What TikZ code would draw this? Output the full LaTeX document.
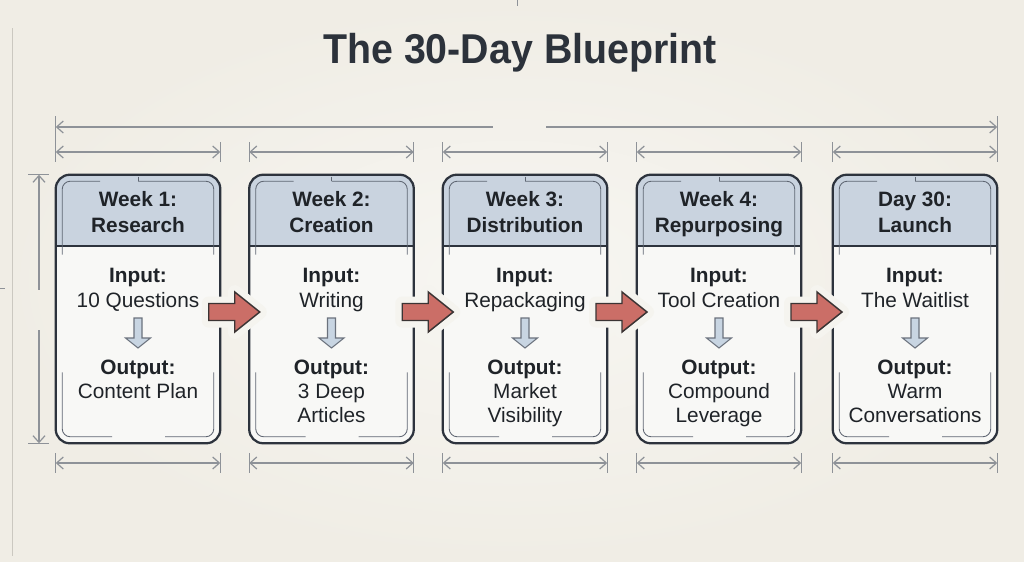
\documentclass[tikz,border=0pt]{standalone}
\usepackage{fontspec}
\setmainfont{Liberation Sans}
\usetikzlibrary{arrows.meta,calc}

\definecolor{bgin}{HTML}{F7F6F2}
\definecolor{bgout}{HTML}{F0EDE5}
\definecolor{halo}{HTML}{F5F4EF}
\definecolor{ink}{HTML}{1F2328}
\definecolor{titleink}{HTML}{2C323B}
\definecolor{border}{HTML}{2D333D}
\definecolor{headfill}{HTML}{C9D3DF}
\definecolor{bodyfill}{HTML}{F8F8F6}
\definecolor{innerline}{HTML}{5F6672}
\definecolor{redfill}{HTML}{CB6E67}
\definecolor{redline}{HTML}{3B3434}
\definecolor{bluefill}{HTML}{C8D5E2}
\definecolor{blueline}{HTML}{6B727D}
\definecolor{dimline}{HTML}{8E9298}
\definecolor{frameline}{HTML}{CBC8C0}

\tikzset{
  card/.style={fill=bodyfill, rounded corners=10.5pt, minimum width=123pt,
    minimum height=201pt, inner sep=0pt},
  cardline/.style={draw=border, line width=1.7pt, rounded corners=10.5pt},
  innerdeco/.style={draw=innerline, line width=0.65pt, rounded corners=6pt},
  dimbase/.style={draw=dimline, line width=0.9pt},
  barb/.tip={Straight Barb[length=5pt,width=9pt,line width=0.9pt]},
  dimboth/.style={dimbase, barb-barb},
  txt/.style={font=\fontsize{15.6}{18}\selectfont, text=ink, inner sep=0pt, anchor=base},
  txtb/.style={font=\fontsize{15.6}{18}\selectfont\bfseries, text=ink, inner sep=0pt, anchor=base},
  pics/flowarrow/.style={code={
    \path[draw=halo, fill=halo, line width=10.5pt, line join=round]
      (-26,-8.5) -- (0,-8.5) -- (0,-20) -- (25,0) -- (0,20) -- (0,8.5) -- (-26,8.5) -- cycle;
    \path[draw=redline, fill=redfill, line width=1.1pt, line join=miter]
      (-26,-8.5) -- (0,-8.5) -- (0,-20) -- (25,0) -- (0,20) -- (0,8.5) -- (-26,8.5) -- cycle;
  }},
  pics/downarrow/.style={code={
    \path[draw=blueline, fill=bluefill, line width=0.8pt, line join=miter]
      (-4,0) -- (4,0) -- (4,20) -- (12.5,20) -- (0,30) -- (-12.5,20) -- (-4,20) -- cycle;
  }}
}

% #1 index, #2 centre x, #3/#4 heading lines, #5 input, #6/#7 output lines
\newcommand\cardblock[7]{%
  \node[card] (card#1) at (#2,309) {};
  \begin{scope}
    \clip[rounded corners=10.5pt] (card#1.north west) rectangle (card#1.south east);
    \fill[headfill] (card#1.north west) rectangle ($(card#1.east)+(0,-63)$);
  \end{scope}
  \draw[border, line width=1.4pt] ($(card#1.west)+(0,-63)$) -- ($(card#1.east)+(0,-63)$);
  \draw[cardline] (card#1.north west) rectangle (card#1.south east);
  % thin inner outline pieces
  \draw[innerdeco] ($(card#1.north west)+(6.5,80)$) -- ($(card#1.north west)+(6.5,6.5)$) -- ($(card#1.north)+(-38,6.5)$);
  \draw[innerdeco] ($(card#1.north)+(0,6.5)$) -- ($(card#1.north east)+(-6.5,6.5)$) -- ($(card#1.north east)+(-6.5,80)$);
  \draw[innerline, line width=0.65pt] ($(card#1.north)+(0,2)$) -- ($(card#1.north)+(0,6.5)$);
  \draw[innerdeco] ($(card#1.south west)+(6.5,-71)$) -- ($(card#1.south west)+(6.5,-6.5)$) -- ($(card#1.south)+(-26,-6.5)$);
  \draw[innerdeco] ($(card#1.south)+(27,-6.5)$) -- ($(card#1.south east)+(-6.5,-6.5)$) -- ($(card#1.south east)+(-6.5,-71)$);
  % texts
  \node[txtb] (head#1a) at (#2,206) {#3};
  \node[txtb] (head#1b) at (#2,232) {#4};
  \node[txtb] (inl#1) at (#2,282) {Input:};
  \node[txt] (inv#1) at (#2,307) {#5};
  \pic at (#2,318) {downarrow};
  \node[txtb] (outl#1) at (#2,374) {Output:};
  \node[txt] (outa#1) at (#2,398) {#6};
  \ifx\relax#7\relax\else\node[txt] (outb#1) at (#2,422) {#7};\fi
  % width dimensions above and below
  \draw[dimboth] (card#1.north west |- 0,152) -- (card#1.north east |- 0,152);
  \draw[dimbase] (card#1.north west |- 0,142) -- (card#1.north west |- 0,162);
  \draw[dimbase] (card#1.north east |- 0,142) -- (card#1.north east |- 0,162);
  \draw[dimboth] (card#1.south west |- 0,463) -- (card#1.south east |- 0,463);
  \draw[dimbase] (card#1.south west |- 0,453) -- (card#1.south west |- 0,473);
  \draw[dimbase] (card#1.south east |- 0,453) -- (card#1.south east |- 0,473);
}

\begin{document}
\begin{tikzpicture}[x=0.75pt,y=-0.75pt]
  \useasboundingbox (0,0) rectangle (1024,561);
  \shade[inner color=bgin, outer color=bgout] (0,0) rectangle (1024,561);

  % sheet marks
  \draw[frameline, line width=0.75pt] (12,28) -- (12,556);
  \draw[dimline, line width=0.6pt] (517,0) -- (517,6);
  \draw[dimline, line width=0.6pt] (0,288) -- (5,288);

  \node[font=\fontsize{29.5}{32}\selectfont\bfseries, text=titleink, inner sep=0pt, anchor=base,
    yscale=1.06] (title) at (520,63) {The 30-Day Blueprint};

  \cardblock{1}{138}{Week 1:}{Research}{10 Questions}{Content Plan}{}
  \cardblock{2}{331.5}{Week 2:}{Creation}{Writing}{3 Deep}{Articles}
  \cardblock{3}{525}{Week 3:}{Distribution}{Repackaging}{Market}{Visibility}
  \cardblock{4}{719}{Week 4:}{Repurposing}{Tool Creation}{Compound}{Leverage}
  \cardblock{5}{915}{Day 30:}{Launch}{The Waitlist}{Warm}{Conversations}

  % overall span above the cards
  \draw[dimbase, barb-] (card1.north west |- 0,127) -- (493,127);
  \draw[dimbase, -barb] (546,127) -- (card5.north east |- 0,127);
  \draw[dimbase] (card1.north west |- 0,116) -- (card1.north west |- 0,142);
  \draw[dimbase] (card5.north east |- 0,116) -- (card5.north east |- 0,142);

  % card height on the left
  \draw[dimbase, barb-] (39,0 |- card1.north) -- (39,290);
  \draw[dimbase, -barb] (39,330) -- (39,0 |- card1.south);
  \draw[dimbase] (28,0 |- card1.north) -- (49,0 |- card1.north);
  \draw[dimbase] (28,0 |- card1.south) -- (49,0 |- card1.south);

  % flow between weeks
  \pic at ($(card1.east)!0.5!(card2.west)+(0,3)$) {flowarrow};
  \pic at ($(card2.east)!0.5!(card3.west)+(0,3)$) {flowarrow};
  \pic at ($(card3.east)!0.5!(card4.west)+(0,3)$) {flowarrow};
  \pic at ($(card4.east)!0.5!(card5.west)+(0,3)$) {flowarrow};
\end{tikzpicture}
\end{document}
